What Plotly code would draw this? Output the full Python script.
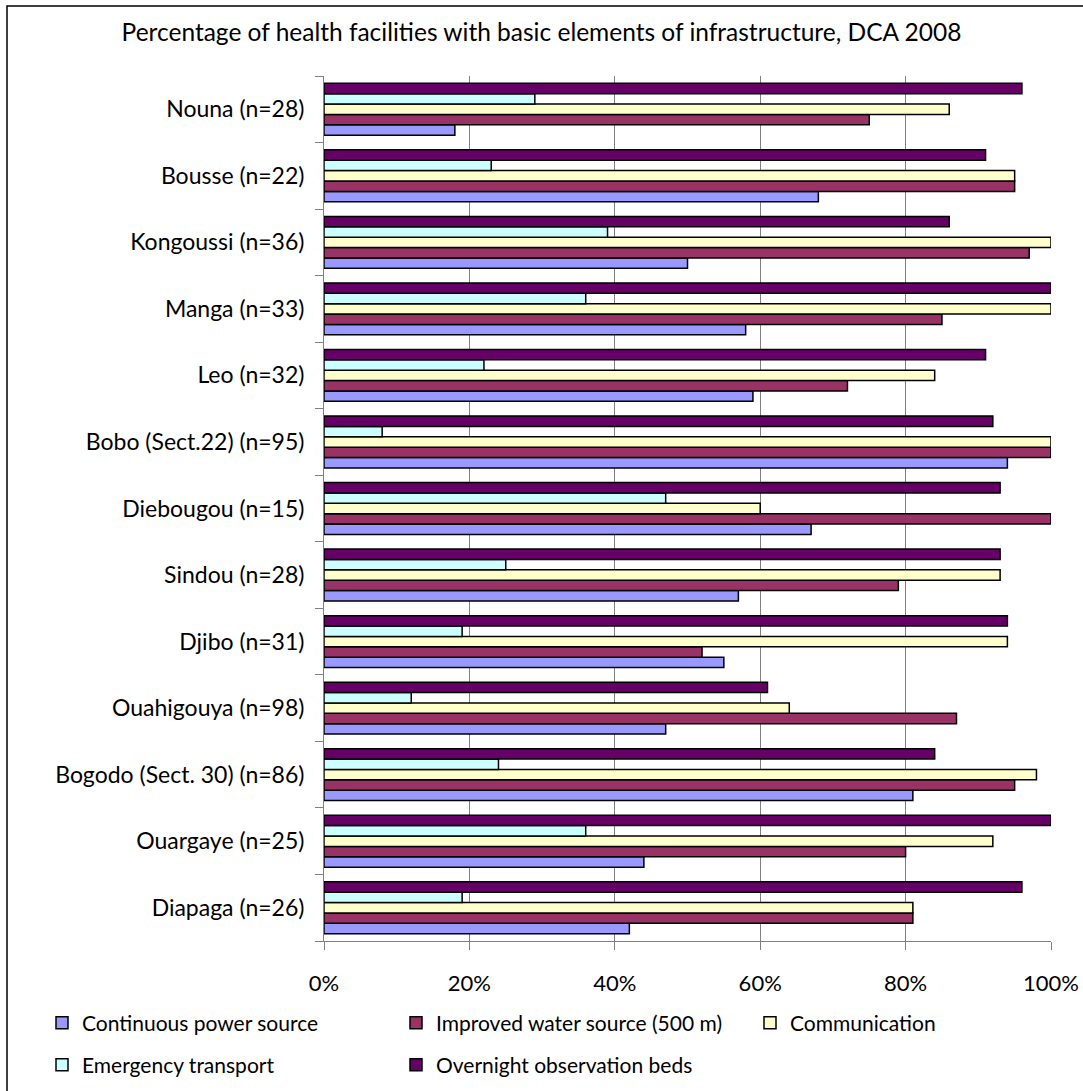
import plotly.graph_objects as go

categories = [
    "Nouna (n=28)", "Bousse (n=22)", "Kongoussi (n=36)", "Manga (n=33)",
    "Leo (n=32)", "Bobo (Sect.22) (n=95)", "Diebougou (n=15)", "Sindou (n=28)",
    "Djibo (n=31)", "Ouahigouya (n=98)", "Bogodo (Sect. 30) (n=86)",
    "Ouargaye (n=25)", "Diapaga (n=26)",
]
series_names = [
    "Continuous power source", "Improved water source (500 m)", "Communication",
    "Emergency transport", "Overnight observation beds",
]
power = [18, 68, 50, 58, 59, 94, 67, 57, 55, 47, 81, 44, 42]
water = [75, 95, 97, 85, 72, 100, 100, 79, 52, 87, 95, 80, 81]
communication = [86, 95, 100, 100, 84, 100, 60, 93, 94, 64, 98, 92, 81]
transport = [29, 23, 39, 36, 22, 8, 47, 25, 19, 12, 24, 36, 19]
beds = [96, 91, 86, 100, 91, 92, 93, 93, 94, 61, 84, 100, 96]
x_ticks = [0, 20, 40, 60, 80, 100]
x_tick_labels = ["0%", "20%", "40%", "60%", "80%", "100%"]

colors = ["#9999FF", "#993366", "#FFFFCC", "#CCFFFF", "#660066"]
values = [power, water, communication, transport, beds]
legend_ids = ["legend", "legend", "legend", "legend2", "legend2"]
legend_widths = [309, 309, None, 309, None]

W, H = 1083, 1091
L, R, T, B = 324, 32, 76, 150
pw, ph = W - L - R, H - T - B

def px_x(p):
    return (p - L) / pw

def px_y(p):
    return (H - B - p) / ph

fig = go.Figure()
for name, vals, col, lg, lw in zip(series_names, values, colors, legend_ids, legend_widths):
    kw = {}
    if lw is not None:
        kw["legendwidth"] = lw
    fig.add_trace(go.Bar(
        y=categories, x=vals, orientation="h", name=name,
        marker=dict(color=col, line=dict(color="black", width=1.5)),
        legend=lg, **kw,
    ))

font_family = "Lato"
fig.update_layout(
    width=W, height=H,
    margin=dict(l=L, r=R, t=T, b=B, autoexpand=False),
    paper_bgcolor="white", plot_bgcolor="white",
    barmode="group", bargap=0.22, bargroupgap=0,
    font=dict(family=font_family, color="black"),
    title=dict(
        text="Percentage of health facilities with basic elements of infrastructure, DCA 2008",
        x=0.5, xref="container", xanchor="center",
        y=1 - 32 / H, yref="container", yanchor="middle",
        font=dict(size=24.5, family=font_family, color="black"),
    ),
    xaxis=dict(
        range=[0, 100], tickmode="array", tickvals=x_ticks, ticktext=x_tick_labels,
        showgrid=True, gridcolor="#808080", gridwidth=1,
        zeroline=False, showline=True, linecolor="#808080", linewidth=1,
        ticks="outside", ticklen=8, tickcolor="#808080",
        tickfont=dict(size=22, family=font_family),
        ticklabelstandoff=15, automargin=False,
    ),
    yaxis=dict(
        categoryorder="array", categoryarray=list(reversed(categories)),
        showgrid=False, zeroline=False, showline=True,
        linecolor="#808080", linewidth=1,
        ticks="outside", ticklen=8, tickcolor="#808080", tickson="boundaries",
        tickfont=dict(size=23, family=font_family),
        ticklabelstandoff=14, automargin=False,
    ),
    legend=dict(
        orientation="h", x=px_x(42), xanchor="left", y=px_y(1023), yanchor="middle",
        font=dict(size=21, family=font_family), bgcolor="rgba(0,0,0,0)",
        traceorder="normal",
    ),
    legend2=dict(
        orientation="h", x=px_x(42), xanchor="left", y=px_y(1065), yanchor="middle",
        font=dict(size=21, family=font_family), bgcolor="rgba(0,0,0,0)",
        traceorder="normal",
    ),
    shapes=[dict(
        type="rect", xref="paper", yref="paper",
        x0=px_x(7), x1=px_x(1095), y0=px_y(1100), y1=px_y(6),
        line=dict(color="black", width=1.5), fillcolor="rgba(0,0,0,0)", layer="below",
    )],
)

fig.write_html("out.html")
